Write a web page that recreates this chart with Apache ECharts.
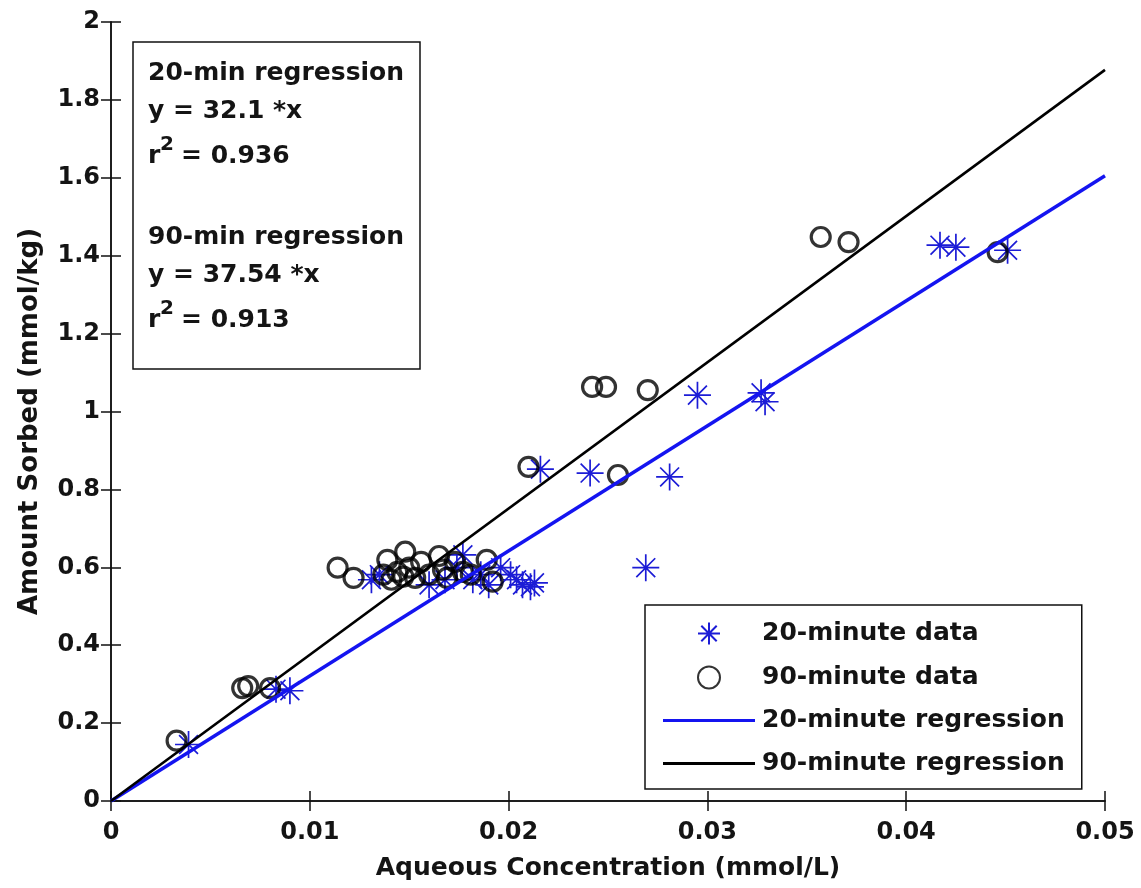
<!DOCTYPE html>
<html>
<head>
<meta charset="utf-8">
<script src="https://cdn.jsdelivr.net/npm/echarts@6/dist/echarts.min.js"></script>
<style>
html,body{margin:0;padding:0;background:#fff;}
#chart{width:1141px;height:888px;}
</style>
</head>
<body>
<div id="chart"></div>
<script>
// ---- data ----
const x20 = [0.0039, 0.0083, 0.0090,
  0.0131, 0.0135, 0.0160, 0.0168, 0.0174, 0.0177, 0.0182, 0.0186, 0.0190, 0.0196, 0.0201, 0.0204, 0.0207, 0.0211, 0.0213,
  0.0216, 0.0241, 0.0281, 0.0269, 0.0295, 0.0327, 0.0329, 0.0417, 0.0425, 0.0451];
const y20 = [0.145, 0.287, 0.283,
  0.568, 0.581, 0.555, 0.568, 0.599, 0.632, 0.568, 0.581, 0.555, 0.599, 0.581, 0.568, 0.555, 0.550, 0.560,
  0.852, 0.842, 0.832, 0.599, 1.042, 1.048, 1.025, 1.427, 1.422, 1.414];
const x90 = [0.0033, 0.0066, 0.0069, 0.0080,
  0.0114, 0.0122, 0.0137, 0.0139, 0.0141, 0.0144, 0.0147, 0.0148, 0.0150, 0.0153, 0.0156, 0.0160, 0.0165, 0.0167, 0.0169, 0.0173, 0.0177, 0.0181, 0.0189, 0.0192,
  0.0210, 0.0242, 0.0249, 0.0270, 0.0255, 0.0357, 0.0371, 0.0446];
const y90 = [0.155, 0.290, 0.295, 0.290,
  0.599, 0.573, 0.581, 0.619, 0.568, 0.588, 0.576, 0.640, 0.599, 0.573, 0.614, 0.581, 0.629, 0.594, 0.573, 0.614, 0.588, 0.581, 0.619, 0.563,
  0.858, 1.063, 1.063, 1.055, 0.837, 1.448, 1.435, 1.409];
const regX = [0, 0.05];
const reg20Y = [0, 1.605];   // y = 32.1 * x
const reg90Y = [0, 1.877];   // y = 37.54 * x
const xTicks = ['0', '0.01', '0.02', '0.03', '0.04', '0.05'];
const seriesNames = ['20-minute data', '90-minute data', '20-minute regression', '90-minute regression'];
const noteTitles = ['20-min regression', '90-min regression'];
const noteEqs = ['y = 32.1 *x', 'y = 37.54 *x'];
const noteR2 = ['0.936', '0.913'];

const pair = (xs, ys) => xs.map((v, i) => [v, ys[i]]);
const FONT = 'DejaVu Sans';
const TXT = '#141414';
const BLUE_MK = '#1c1cd6';
const BLUE_LN = '#1414f0';
const starPath = 'path://M10,0L10,20M0,10L20,10M3,3L17,17M3,17L17,3';
const barPath = 'path://M0,0L92,0L92,3L0,3Z';

const chart = echarts.init(document.getElementById('chart'), null, {renderer: 'canvas'});

const axisCommon = {
  axisLine: {show: true, lineStyle: {color: '#111', width: 1.5}},
  axisTick: {show: true, inside: true, length: 10, lineStyle: {color: '#111', width: 1.5}},
  splitLine: {show: false}
};

function txt(x, y, s, size) {
  return {type: 'text', z: 101,
    style: {x: x, y: y, text: s, font: 'bold ' + (size || 25) + 'px "' + FONT + '"',
      fill: TXT, align: 'left', verticalAlign: 'middle'}};
}
function noteBlock(k, y0) {
  return [
    txt(148, y0, noteTitles[k]),
    txt(148, y0 + 38, noteEqs[k]),
    txt(148, y0 + 83, 'r'),
    txt(160, y0 + 72, '2', 20),
    txt(181, y0 + 83, '= ' + noteR2[k])
  ];
}

chart.setOption({
  animation: false,
  backgroundColor: '#fff',
  grid: {left: 111, top: 22, width: 994, height: 779, containLabel: false},
  xAxis: [
    Object.assign({
      type: 'value', min: 0, max: 0.05, interval: 0.01, position: 'bottom',
      axisLabel: {fontFamily: FONT, fontWeight: 'bold', fontSize: 24, color: TXT, margin: 20,
        formatter: (v) => xTicks[Math.round(v / 0.01)]},
      name: 'Aqueous Concentration (mmol/L)', nameLocation: 'middle', nameGap: 55,
      nameTextStyle: {fontFamily: FONT, fontWeight: 'bold', fontSize: 25, color: TXT}
    }, axisCommon),
    Object.assign({
      type: 'value', min: 0, max: 0.05, interval: 0.01, position: 'top', axisLabel: {show: false}
    }, axisCommon)
  ],
  yAxis: [
    Object.assign({
      type: 'value', min: 0, max: 2, interval: 0.2, position: 'left',
      axisLabel: {fontFamily: FONT, fontWeight: 'bold', fontSize: 24, color: TXT, margin: 11},
      name: 'Amount Sorbed (mmol/kg)', nameLocation: 'middle', nameGap: 68,
      nameTextStyle: {fontFamily: FONT, fontWeight: 'bold', fontSize: 26, color: TXT, padding: [0, 20, 0, 0]}
    }, axisCommon),
    Object.assign({
      type: 'value', min: 0, max: 2, interval: 0.2, position: 'right', axisLabel: {show: false}
    }, axisCommon)
  ],
  legend: {
    orient: 'vertical', left: 645, top: 605,
    padding: [15, 17, 13, 18], itemGap: 18, itemWidth: 92, itemHeight: 22,
    backgroundColor: '#fff', borderColor: '#111', borderWidth: 1.5, borderRadius: 0,
    textStyle: {fontFamily: FONT, fontWeight: 'bold', fontSize: 25, lineHeight: 22, color: TXT, padding: [0, 0, 0, 2]},
    data: [
      {name: seriesNames[0]},
      {name: seriesNames[1], icon: 'circle'},
      {name: seriesNames[2], icon: barPath, itemStyle: {color: BLUE_LN}},
      {name: seriesNames[3], icon: barPath, itemStyle: {color: '#000'}}
    ],
    z: 50
  },
  series: [
    {
      name: seriesNames[0], type: 'scatter', data: pair(x20, y20),
      symbol: starPath, symbolSize: 27,
      itemStyle: {color: 'none', borderColor: BLUE_MK, borderWidth: 1.7, opacity: 1},
      z: 3
    },
    {
      name: seriesNames[1], type: 'scatter', data: pair(x90, y90),
      symbol: 'circle', symbolSize: 19,
      itemStyle: {color: 'rgba(0,0,0,0)', borderColor: '#000', borderWidth: 3.2},
      z: 4
    },
    {
      name: seriesNames[2], type: 'line', data: pair(regX, reg20Y),
      symbol: 'none', showSymbol: false,
      lineStyle: {color: BLUE_LN, width: 3.5}, itemStyle: {color: BLUE_LN},
      z: 5
    },
    {
      name: seriesNames[3], type: 'line', data: pair(regX, reg90Y),
      symbol: 'none', showSymbol: false,
      lineStyle: {color: '#000', width: 2.6}, itemStyle: {color: '#000'},
      z: 6
    }
  ],
  graphic: [
    {type: 'rect', shape: {x: 133, y: 42, width: 287, height: 327}, z: 100,
      style: {fill: '#fff', stroke: '#111', lineWidth: 1.5}}
  ].concat(noteBlock(0, 73), noteBlock(1, 237))
});
</script>
</body>
</html>
